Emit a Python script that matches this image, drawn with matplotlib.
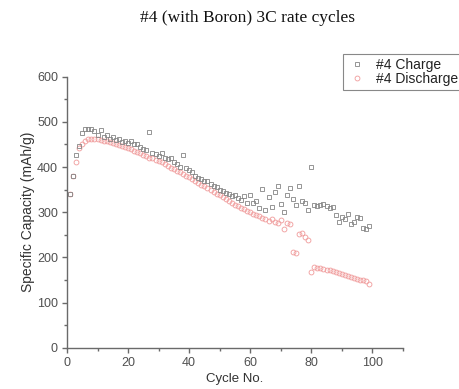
import matplotlib
matplotlib.use("Agg")
import matplotlib.pyplot as plt
import numpy as np

cycles = list(range(1, 100))

charge = [341, 381, 426, 446, 475, 484, 485, 484, 480, 470,
          481, 466, 470, 463, 466, 460, 462, 456, 458, 454,
          457, 451, 452, 445, 440, 437, 478, 432, 428, 424,
          431, 420, 418, 421, 410, 406, 400, 426, 398, 394,
          390, 380, 376, 374, 370, 368, 362, 358, 355, 350,
          346, 343, 340, 336, 338, 332, 328, 335, 320, 337,
          321, 324, 310, 352, 305, 334, 312, 345, 358, 319,
          300, 337, 354, 330, 315, 359, 324, 320, 305, 399,
          317, 313, 315, 318, 313, 310, 312, 293, 278, 290,
          284, 296, 273, 278, 290, 287, 265, 262, 270]

discharge = [341, 380, 410, 441, 450, 458, 461, 462, 462, 461,
             460, 458, 457, 455, 453, 451, 449, 447, 445, 442,
             439, 436, 433, 430, 427, 424, 421, 419, 416, 413,
             410, 406, 402, 398, 395, 391, 388, 384, 380, 377,
             373, 369, 365, 361, 357, 353, 349, 345, 341, 337,
             333, 329, 325, 321, 317, 313, 310, 306, 303, 300,
             297, 294, 291, 288, 284, 280, 286, 279, 277, 283,
             263, 276, 274, 213, 209, 251, 254, 246, 239, 168,
             178, 177, 176, 175, 173, 171, 169, 167, 165, 163,
             161, 159, 157, 155, 153, 151, 149, 147, 141]

title = "#4 (with Boron) 3C rate cycles"
series_labels = ["#4 Charge", "#4 Discharge"]
x_ticks = [0, 20, 40, 60, 80, 100]
y_ticks = [0, 100, 200, 300, 400, 500, 600]

plt.rcParams['font.family'] = ['Liberation Sans', 'DejaVu Sans']

fig = plt.figure(figsize=(4.6, 3.89), dpi=100)
ax = fig.add_axes([0.1457, 0.106, 0.730, 0.697])

axis_col = '#6a6a6a'
ln_d, = ax.plot(cycles, discharge, linestyle='none', marker='o', ms=3.5,
                mfc='none', mec='#f09a9a', mew=0.6, label=series_labels[1])
ln_c, = ax.plot(cycles, charge, linestyle='none', marker='s', ms=3.2,
                mfc='none', mec='#858585', mew=0.6, label=series_labels[0])

ax.set_xlim(0, 110)
ax.set_ylim(0, 600)
ax.set_xticks(x_ticks)
ax.set_yticks(y_ticks)
ax.set_xticks(np.arange(10, 111, 20), minor=True)
ax.set_yticks(np.arange(50, 600, 100), minor=True)

for s in ['top', 'right']:
    ax.spines[s].set_visible(False)
for s in ['left', 'bottom']:
    ax.spines[s].set_color(axis_col)
    ax.spines[s].set_linewidth(1.0)

ax.tick_params(which='major', direction='out', length=3.5, width=1.0,
               color=axis_col, labelsize=9, labelcolor='#505050', pad=3)
ax.tick_params(which='minor', direction='out', length=2.2, width=1.0,
               color=axis_col)

ax.set_xlabel("Cycle No.", fontsize=9.5, color='#333333', labelpad=3)
ax.set_ylabel("Specific Capacity (mAh/g)", fontsize=10, color='#333333', labelpad=1.5)

fig.text(0.537, 0.955, title, ha='center', va='center', fontsize=12.5,
         family=['Liberation Serif', 'DejaVu Serif'], color='#111111')

leg = ax.legend([ln_c, ln_d], series_labels, loc='upper left',
                bbox_to_anchor=(0.7457, 0.861), bbox_transform=fig.transFigure,
                fontsize=10, frameon=True, fancybox=False, framealpha=1,
                edgecolor='#888888', borderpad=0.3, labelspacing=0.0,
                handlelength=1.4, handletextpad=0.7, borderaxespad=0)
leg.get_frame().set_linewidth(0.8)
for t in leg.get_texts():
    t.set_color('#222222')

fig.savefig("out.png", dpi=100)
